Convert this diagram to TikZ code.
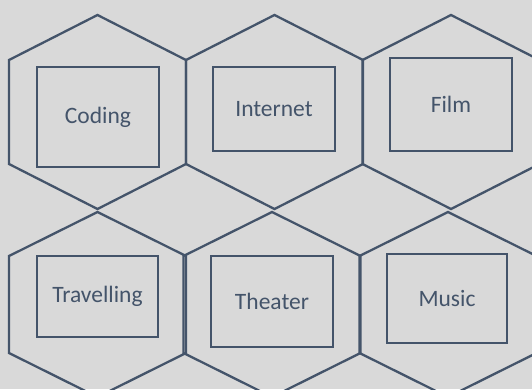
\documentclass[tikz,border=0pt]{standalone}
\usepackage{fontspec}
\setmainfont{Carlito}
\definecolor{slate}{HTML}{44546A}
\definecolor{bg}{HTML}{D9D9D9}
\tikzset{
  hexline/.style={draw=slate, line width=2.3pt, line join=miter},
  box/.style={draw=slate, line width=1.7pt, inner sep=0pt, text=slate,
    font=\fontsize{23.5}{26}\selectfont},
}
\newcommand{\hexat}[4]{% cx, cy, half-width, half-height, side offset fixed via #4
  \draw[hexline] (#1,#2-#4) -- (#1+88.5,#2-#3) -- (#1+88.5,#2+#3) -- (#1,#2+#4)
    -- (#1-88.5,#2+#3) -- (#1-88.5,#2-#3) -- cycle;}
\begin{document}
\begin{tikzpicture}[x=1pt,y=-1pt]
\useasboundingbox (0,0) rectangle (532,389);
\fill[bg] (0,0) rectangle (532,389);
\begin{scope}
\clip (0,0) rectangle (532,389);
% row 1 hexagons
\hexat{97.5}{112}{52}{97}
\hexat{274.5}{112}{52}{97}
\hexat{451}{112}{52}{97}
% row 2 hexagons
\hexat{97.5}{304.5}{48.5}{92.5}
\hexat{272}{304.5}{48.5}{92.5}
\hexat{448}{304.5}{48.5}{92.5}
\end{scope}
% boxes
\node[box, minimum width=122pt, minimum height=100pt] (coding) at (98,117) {Coding};
\node[box, minimum width=122pt, minimum height=84pt] (internet) at (274,109) {Internet};
\node[box, minimum width=122pt, minimum height=93pt] (film) at (451,104.5) {Film};
\node[box, minimum width=121pt, minimum height=81pt] (travelling) at (97.5,296.5) {Travelling};
\node[box, minimum width=122pt, minimum height=91pt] (theater) at (272,301.5) {Theater};
\node[box, minimum width=120pt, minimum height=89pt] (music) at (447,298.5) {Music};
\end{tikzpicture}
\end{document}
